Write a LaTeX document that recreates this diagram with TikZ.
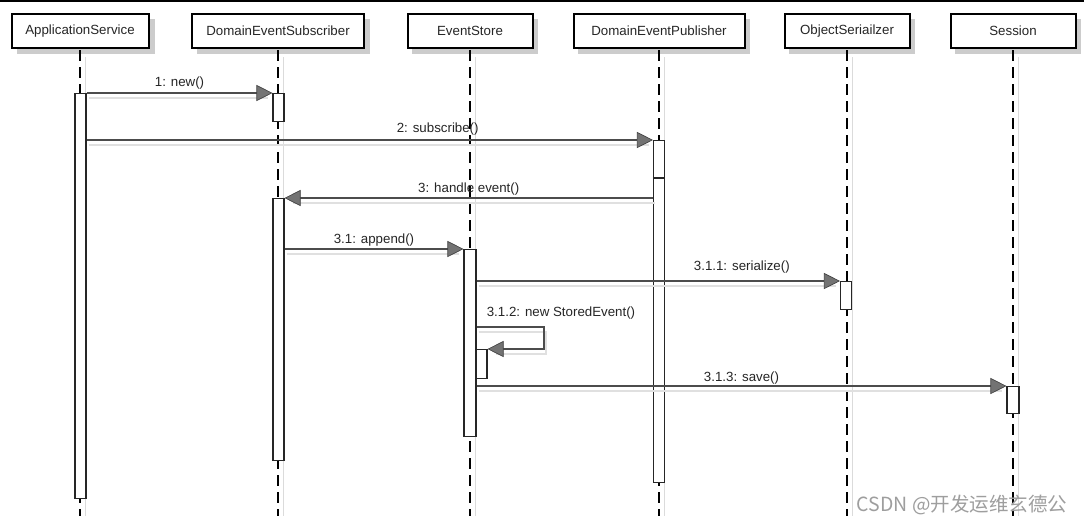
\documentclass[tikz,border=0pt]{standalone}
\usepackage{fontspec}
\setmainfont{Liberation Sans}
\newfontfamily\cjkfont{Noto Sans CJK SC}
\usetikzlibrary{arrows.meta}
\begin{document}
\begin{tikzpicture}[x=1pt,y=-1pt,
  every node/.style={inner sep=0pt, font=\fontsize{13.3}{15}\selectfont},
  head/.style={draw=black, line width=2pt, fill=white, minimum height=34pt, text=black!85},
  headshadow/.style={fill=black!20},
  life/.style={draw=black, line width=1.3pt, dash pattern=on 11pt off 6pt},
  lifeshadow/.style={draw=black!14, line width=1pt},
  bar/.style={draw=black!85, line width=1.1pt, fill=white, minimum width=11pt, anchor=north},
  msg/.style={draw=black!70, line width=1.3pt,
    -{Triangle[length=16pt,width=16pt,fill=black!55,color=black!75,line width=0.6pt]}},
  msgshadow/.style={draw=black!12, line width=1.3pt, transform canvas={shift={(2pt,-5pt)}}, shorten >=6pt},
  lbl/.style={text=black!85}
]
\useasboundingbox (0,0) rectangle (1084,523);
\fill[white] (0,0) rectangle (1084,523);
\draw[black, line width=1.5pt] (0,0.75) -- (1084,0.75);

% head shadows
\fill[headshadow] (17,19)   rectangle (155,54);
\fill[headshadow] (197,19)  rectangle (370,54);
\fill[headshadow] (412,19)  rectangle (538,54);
\fill[headshadow] (578,19)  rectangle (750,54);
\fill[headshadow] (789,19)  rectangle (915,54);
\fill[headshadow] (955,19)  rectangle (1081,54);

% heads
\node[head, minimum width=137pt] (as)  at (80,31)   {ApplicationService};
\node[head, minimum width=172pt] (des) at (278,31)  {DomainEventSubscriber};
\node[head, minimum width=125pt] (es)  at (470,31)  {EventStore};
\node[head, minimum width=171pt] (dep) at (659,31)  {DomainEventPublisher};
\node[head, minimum width=125pt] (os)  at (847,31)  {ObjectSeriailzer};
\node[head, minimum width=125pt] (se)  at (1013,31) {Session};

% lifelines
\coordinate (asEnd)  at (80,516);
\coordinate (desEnd) at (278,516);
\coordinate (esEnd)  at (470,516);
\coordinate (depEnd) at (659,516);
\coordinate (osEnd)  at (847,516);
\coordinate (seEnd)  at (1013,516);
\foreach \h in {as,des,es,dep,os,se}{
  \draw[lifeshadow] ([shift={(5pt,-8pt)}]\h.south) -- ([xshift=5pt]\h End);
  \draw[life] ([yshift=-1pt]\h.south) -- (\h End);
}

% activation bars
\node[bar, minimum height=405pt] (asA)  at (80.5,93)  {};
\node[bar, minimum height=28pt]  (desA) at (278.5,93) {};
\node[bar, minimum height=262pt] (desB) at (278.5,198) {};
\node[bar, minimum height=342pt] (depA) at (659,140)  {};
\node[bar, minimum height=187pt, minimum width=12pt] (esA) at (470,249) {};
\node[bar, minimum height=29pt]  (esB)  at (481.5,349) {};
\node[bar, minimum height=28pt]  (osA)  at (846,281)  {};
\node[bar, minimum height=27pt, minimum width=12pt] (seA) at (1013,386) {};
\coordinate (dl) at (0,178);
\draw[black!85, line width=1.1pt] (depA.west |- dl) -- (depA.east |- dl);

% message shadows
\draw[msgshadow] (asA.east |- desA.north) -- (desA.north west);
\draw[msgshadow] (asA.east |- depA.north) -- (depA.north west);
\draw[msgshadow] (depA.west |- desB.north) -- (desB.north east);
\draw[msgshadow] (desB.east |- esA.north) -- (esA.north west);
\draw[msgshadow] (esA.east |- osA.north) -- (osA.north west);
\coordinate (s1) at (544,327);
\draw[msgshadow] (esA.east |- s1) -- (s1) |- (esB.north east);
\draw[msgshadow] (esA.east |- seA.north) -- (seA.north west);

% messages
\draw[msg] (asA.east |- desA.north) -- (desA.north west)
  node[lbl, pos=0.5, yshift=10pt] {1: new()};
\draw[msg] (asA.east |- depA.north) -- (depA.north west)
  node[lbl, pos=0.62, yshift=11pt] {2: subscribe()};
\draw[msg] (depA.west |- desB.north) -- (desB.north east)
  node[lbl, pos=0.5, yshift=9pt] {3: handle event()};
\draw[msg] (desB.east |- esA.north) -- (esA.north west)
  node[lbl, pos=0.5, yshift=9pt] {3.1: append()};
\draw[msg] (esA.east |- osA.north) -- (osA.north west)
  node[lbl, pos=0.73, yshift=14pt] {3.1.1: serialize()};
\draw[msg] (esA.east |- s1) -- (s1) |- (esB.north east);
\node[lbl] (l6) at (561,313) {3.1.2: new StoredEvent()};
\draw[msg] (esA.east |- seA.north) -- (seA.north west)
  node[lbl, pos=0.5, yshift=8pt] {3.1.3: save()};

% watermark
\node[text=black!38, font=\cjkfont\fontsize{19.5}{22}\selectfont] (wm) at (962,505) {CSDN @开发运维玄德公};
\end{tikzpicture}
\end{document}
